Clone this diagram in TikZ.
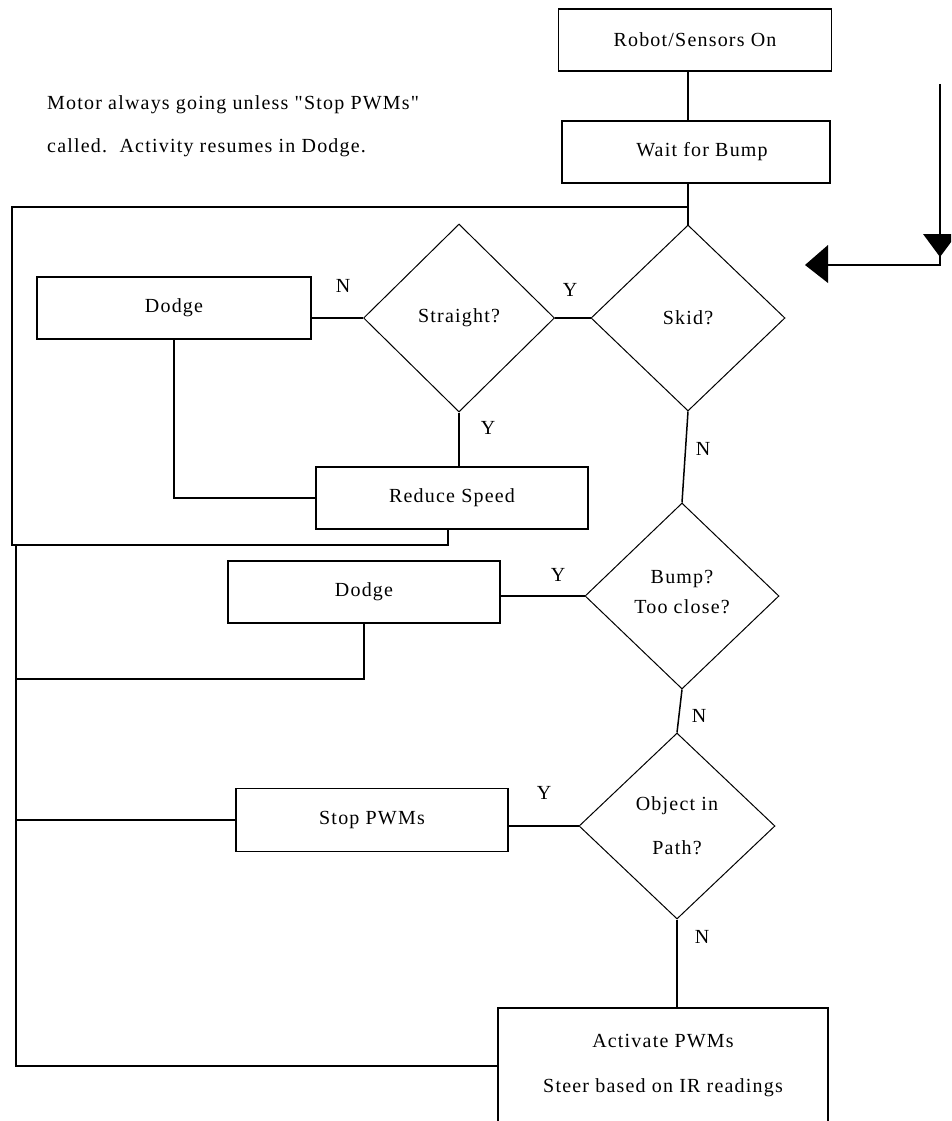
\documentclass[tikz,border=0pt]{standalone}
\usepackage{fontspec}
\setmainfont{Liberation Serif}[LetterSpace=6, Ligatures=TeXOff]
\usetikzlibrary{shapes.geometric}
\begin{document}
\begin{tikzpicture}[x=1pt,y=-1pt,
  txt/.style={font=\fontsize{20}{22}\selectfont},
  box/.style={draw, line width=1.5pt, rectangle, inner sep=0pt, align=center, txt},
  dia/.style={draw, line width=1pt, diamond, inner sep=0pt, align=center, txt},
  conn/.style={line width=1.5pt},
  lbl/.style={inner sep=0pt, txt}]
\useasboundingbox (0,0) rectangle (951,1121);
\clip (0,0) rectangle (951,1121);

% notes
\node[lbl, anchor=west] (note1) at (47,105) {Motor always going unless "Stop PWMs"};
\node[lbl, anchor=west] (note2) at (47,148) {called.\ \ Activity resumes in Dodge.};

% nodes
\node[box, minimum width=273pt, minimum height=62pt] (robot) at (695,40) {Robot/Sensors On};
\node[box, minimum width=268pt, minimum height=62pt] (wait) at (696,152) {\hspace*{12pt}Wait for Bump};
\node[dia, minimum width=194pt, minimum height=186pt] (skid) at (688,318) {\raisebox{-5pt}{Skid?}};
\node[dia, minimum width=191pt, minimum height=188pt] (straight) at (459,318) {\raisebox{4pt}{Straight?}};
\node[box, minimum width=274pt, minimum height=62pt] (dodgeA) at (174,308) {Dodge};
\node[box, minimum width=272pt, minimum height=62pt] (reduce) at (452,498) {Reduce Speed};
\node[dia, minimum width=194pt, minimum height=186pt] (bump) at (682,596) {\raisebox{8pt}{\shortstack{Bump?\\[9pt]Too close?}}};
\node[box, minimum width=272pt, minimum height=62pt] (dodgeB) at (364,592) {Dodge};
\node[dia, minimum width=196pt, minimum height=186pt] (obj) at (677,826) {Object in\\[22pt]Path?};
\node[box, minimum width=272pt, minimum height=63pt] (stop) at (372,820) {Stop PWMs};
\node[box, minimum width=330pt, minimum height=116pt] (act) at (663,1066) {Activate PWMs\\[23pt]Steer based on IR readings};

% helper coordinates
\coordinate (c1) at (448,545);
\coordinate (c2) at (12,545);
\coordinate (c3) at (12,207);
\coordinate (r0) at (16,545);
\coordinate (r2) at (16,679);

% connectors
\draw[conn] (robot.south -| skid.north) -- (wait.north -| skid.north);
\draw[conn] (wait.south -| skid.north) -- (skid.north);
\draw[conn] (reduce.south -| c1) -- (c1) -- (c2) -- (c3) -- (c3 -| skid.north);
\draw[conn] (straight.west -| dodgeA.east) -- (straight.west);
\draw[conn] (straight.east) -- (skid.west);
\draw[conn] (straight.south) -- (straight.south |- reduce.north);
\draw[conn] (dodgeA.south) |- (reduce.west);
\draw[conn] (skid.south) -- (bump.north);
\draw[conn] (bump.west -| dodgeB.east) -- (bump.west);
\draw[conn] (dodgeB.south) |- (r2);
\draw[conn] (r0) -- (r0 |- act.west) -- (act.west);
\draw[conn] (stop.west) -- (stop.west -| r0);
\draw[conn] (bump.south) -- (obj.north);
\draw[conn] (obj.west -| stop.east) -- (obj.west);
\draw[conn] (obj.south) -- (obj.south |- act.north);

% Y/N labels
\node[lbl] (lN1) at (343,286) {N};
\node[lbl] (lY1) at (570,290) {Y};
\node[lbl] (lY2) at (488,428) {Y};
\node[lbl] (lN2) at (703,449) {N};
\node[lbl] (lY3) at (558,575) {Y};
\node[lbl] (lN3) at (699,716) {N};
\node[lbl] (lY4) at (544,793) {Y};
\node[lbl] (lN4) at (702,937) {N};

% direction arrows (top right)
\coordinate (a0) at (940,84);
\coordinate (a1) at (940,265);
\coordinate (a2) at (827,265);
\draw[conn] (a0) -- (a1) -- (a2);
\fill (923,234) -- (957,234) -- (940,257) -- cycle;
\fill (805,265) -- (828,245) -- (828,283) -- cycle;
\end{tikzpicture}
\end{document}
